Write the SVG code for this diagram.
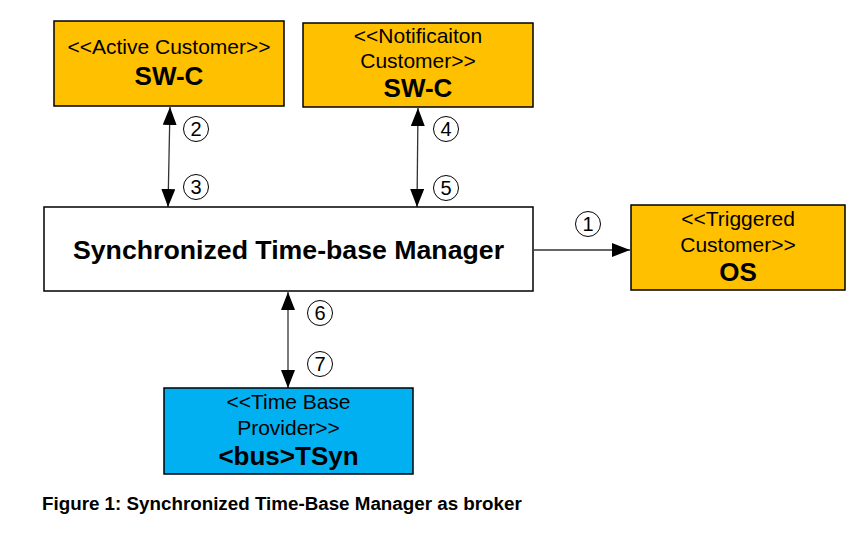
<svg xmlns="http://www.w3.org/2000/svg" width="868" height="533" viewBox="0 0 868 533">
<style>
.box{stroke:#000;stroke-width:1.5}
.orange{fill:#FFC000}
.blue{fill:#00B0F0}
.white{fill:#fff}
.t{font-family:"Liberation Sans",Arial,sans-serif;font-size:21px;fill:#000;text-anchor:middle}
.b{font-family:"Liberation Sans",Arial,sans-serif;font-size:26px;font-weight:bold;fill:#000;text-anchor:middle}
.num{font-family:"Liberation Sans",Arial,sans-serif;font-size:20px;fill:#000;text-anchor:middle}
.circ{fill:#fff;stroke:#000;stroke-width:1}
.conn{stroke:#333;stroke-width:1.3;fill:none}
.cap{font-family:"Liberation Sans",Arial,sans-serif;font-size:18.8px;font-weight:bold;fill:#000}
</style>
<defs>
<marker id="ah" viewBox="0 0 18 14" refX="18" refY="7" markerWidth="18" markerHeight="14" markerUnits="userSpaceOnUse" orient="auto-start-reverse">
<path d="M0,0 L18,7 L0,14 Z" fill="#000"/>
</marker>
</defs>
<rect width="868" height="533" fill="#fff"/>
<g id="connectors">
<line class="conn" x1="170" y1="107" x2="168" y2="207" marker-start="url(#ah)" marker-end="url(#ah)"/>
<line class="conn" x1="418" y1="108" x2="417" y2="207" marker-start="url(#ah)" marker-end="url(#ah)"/>
<line class="conn" x1="534" y1="250" x2="630" y2="250" marker-end="url(#ah)"/>
<line class="conn" x1="288" y1="292" x2="288" y2="388" marker-start="url(#ah)" marker-end="url(#ah)"/>
<circle class="circ" cx="588" cy="224" r="12.5"/><text class="num" x="588" y="231">1</text>
<circle class="circ" cx="196" cy="129" r="12.5"/><text class="num" x="196" y="136">2</text>
<circle class="circ" cx="196" cy="187" r="12.5"/><text class="num" x="196" y="194">3</text>
<circle class="circ" cx="446" cy="129" r="12.5"/><text class="num" x="446" y="136">4</text>
<circle class="circ" cx="446" cy="188" r="12.5"/><text class="num" x="446" y="195">5</text>
<circle class="circ" cx="320" cy="313" r="12.5"/><text class="num" x="320" y="320">6</text>
<circle class="circ" cx="320" cy="364" r="12.5"/><text class="num" x="320" y="371">7</text>
</g>
<g id="active">
<rect class="box orange" x="54" y="21" width="230" height="85"/>
<text class="t" x="169" y="54">&lt;&lt;Active Customer&gt;&gt;</text>
<text class="b" x="169" y="85">SW-C</text>
</g>
<g id="notification">
<rect class="box orange" x="303" y="23" width="230" height="84"/>
<text class="t" x="418" y="42.5">&lt;&lt;Notificaiton</text>
<text class="t" x="418" y="67.5">Customer&gt;&gt;</text>
<text class="b" x="418" y="97">SW-C</text>
</g>
<g id="manager">
<rect class="box white" x="44" y="207" width="489" height="84"/>
<text class="b" x="288.5" y="259" style="font-size:26.7px">Synchronized Time-base Manager</text>
</g>
<g id="triggered">
<rect class="box orange" x="631" y="205" width="214" height="85"/>
<text class="t" x="738" y="226">&lt;&lt;Triggered</text>
<text class="t" x="738" y="251.5">Customer&gt;&gt;</text>
<text class="b" x="738" y="280.5">OS</text>
</g>
<g id="provider">
<rect class="box blue" x="164" y="388" width="249" height="86"/>
<text class="t" x="288.5" y="409">&lt;&lt;Time Base</text>
<text class="t" x="288.5" y="435">Provider&gt;&gt;</text>
<text class="b" x="288.5" y="465">&lt;bus&gt;TSyn</text>
</g>
<text class="cap" x="42" y="510">Figure 1: Synchronized Time-Base Manager as broker</text>
</svg>
